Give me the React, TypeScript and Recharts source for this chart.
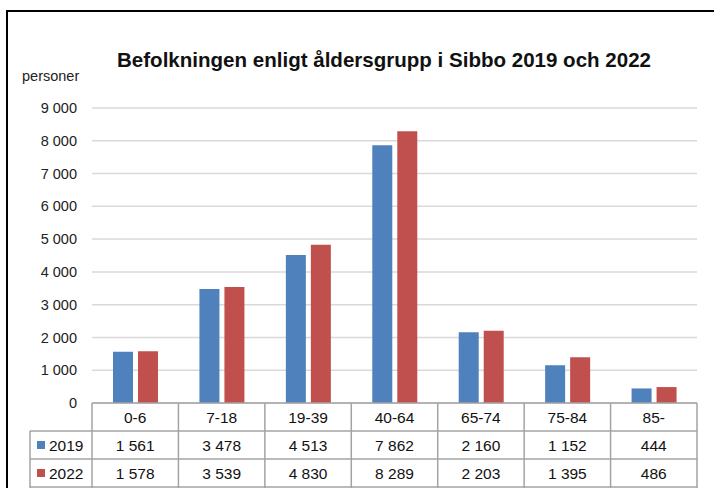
import React from "react";
import { BarChart, Bar, XAxis, YAxis, CartesianGrid, Customized } from "recharts";

const categories = ["0-6", "7-18", "19-39", "40-64", "65-74", "75-84", "85-"];
const values2019 = [1561, 3478, 4513, 7862, 2160, 1152, 444];
const values2022 = [1578, 3539, 4830, 8289, 2203, 1395, 486];
const yTicks = [0, 1000, 2000, 3000, 4000, 5000, 6000, 7000, 8000, 9000];
const seriesNames = ["2019", "2022"];
const title = "Befolkningen enligt åldersgrupp i Sibbo 2019 och 2022";
const yUnit = "personer";

const BLUE = "#4F81BD";
const RED = "#C0504D";
const LINE = "#a3a3a3";
const FONT = "'Liberation Sans', Arial, sans-serif";

const data = categories.map((c, i) => ({ cat: c, v2019: values2019[i], v2022: values2022[i] }));

const fmt = (n: number) => String(n).replace(/\B(?=(\d{3})+(?!\d))/g, " ");

const W = 714;
const H = 488;
const PLOT_LEFT = 92;
const PLOT_RIGHT = 697;
const COL_W = (PLOT_RIGHT - PLOT_LEFT) / categories.length;
const ROW_H = 28;
const LEGEND_LEFT = 30;

const TableTick = (props: any) => {
  const { x, y, payload } = props;
  const idx = payload.index;
  const left = x - COL_W / 2;
  const right = x + COL_W / 2;
  const rows = [values2019, values2022];
  return (
    <g>
      {idx === 0 && (
        <g>
          <line x1={LEGEND_LEFT} x2={PLOT_LEFT} y1={y + ROW_H} y2={y + ROW_H} stroke={LINE} strokeWidth={1.5} />
          <line x1={LEGEND_LEFT} x2={PLOT_LEFT} y1={y + ROW_H * 2} y2={y + ROW_H * 2} stroke={LINE} strokeWidth={1.5} />
          <line x1={LEGEND_LEFT} x2={PLOT_LEFT} y1={y + ROW_H * 3} y2={y + ROW_H * 3} stroke={LINE} strokeWidth={1.5} />
          <line x1={LEGEND_LEFT} x2={LEGEND_LEFT} y1={y + ROW_H} y2={y + ROW_H * 3 + 4} stroke={LINE} strokeWidth={1.5} />
          <line x1={left} x2={left} y1={y} y2={y + ROW_H * 3 + 4} stroke={LINE} strokeWidth={1.5} />
          {seriesNames.map((s, r) => (
            <g key={s}>
              <rect x={37} y={y + ROW_H * (r + 1) + 10} width={8} height={8} fill={r === 0 ? BLUE : RED} />
              <text x={49} y={y + ROW_H * (r + 1) + 20} fontSize={15.5} fontFamily={FONT} fill="#111">
                {s}
              </text>
            </g>
          ))}
        </g>
      )}
      <line x1={left} x2={right} y1={y} y2={y} stroke={LINE} strokeWidth={1.5} />
      <line x1={left} x2={right} y1={y + ROW_H} y2={y + ROW_H} stroke={LINE} strokeWidth={1.5} />
      <line x1={left} x2={right} y1={y + ROW_H * 2} y2={y + ROW_H * 2} stroke={LINE} strokeWidth={1.5} />
      <line x1={left} x2={right} y1={y + ROW_H * 3} y2={y + ROW_H * 3} stroke={LINE} strokeWidth={1.5} />
      <line x1={right} x2={right} y1={y} y2={y + ROW_H * 3 + 4} stroke={LINE} strokeWidth={1.5} />
      <text x={x} y={y + 20} textAnchor="middle" fontSize={15.5} fontFamily={FONT} fill="#111">
        {payload.value}
      </text>
      {rows.map((vals, r) => (
        <text
          key={r}
          x={x}
          y={y + ROW_H * (r + 1) + 20}
          textAnchor="middle"
          fontSize={15.5}
          fontFamily={FONT}
          fill="#111"
        >
          {fmt(vals[idx])}
        </text>
      ))}
    </g>
  );
};

const Decorations = () => (
  <g>
    <line x1={6} x2={W} y1={11} y2={11} stroke="#000" strokeWidth={2} />
    <line x1={7} x2={7} y1={10} y2={H} stroke="#000" strokeWidth={2} />
    <text
      x={384}
      y={67}
      textAnchor="middle"
      fontSize={20.5}
      fontWeight="bold"
      fontFamily={FONT}
      fill="#111"
      textLength={534}
      lengthAdjust="spacingAndGlyphs"
    >
      {title}
    </text>
    <text x={22} y={81} fontSize={14.5} fontFamily={FONT} fill="#222">
      {yUnit}
    </text>
  </g>
);

export default function App() {
  return (
    <div style={{ position: "absolute", left: 0, top: 0, width: W, height: H, background: "#fff" }}>
      <BarChart
        width={W}
        height={H}
        data={data}
        margin={{ top: 108, right: W - PLOT_RIGHT, bottom: 0, left: PLOT_LEFT - 60 }}
        barSize={20}
        barGap={5}
      >
        <CartesianGrid horizontal vertical={false} stroke="#d9d9d9" strokeWidth={1.5} />
        <XAxis
          dataKey="cat"
          height={85}
          tickLine={false}
          axisLine={false}
          tickSize={0}
          tickMargin={0}
          interval={0}
          tick={<TableTick />}
        />
        <YAxis
          width={60}
          domain={[0, 9000]}
          ticks={yTicks}
          tickLine={false}
          axisLine={false}
          tickMargin={9}
          tickFormatter={(v: number) => fmt(v)}
          tick={{ fontSize: 14.5, fontFamily: FONT, fill: "#222" }}
          interval={0}
        />
        <Bar dataKey="v2019" name={seriesNames[0]} fill={BLUE} isAnimationActive={false} />
        <Bar dataKey="v2022" name={seriesNames[1]} fill={RED} isAnimationActive={false} />
        <Customized component={Decorations} />
      </BarChart>
    </div>
  );
}
